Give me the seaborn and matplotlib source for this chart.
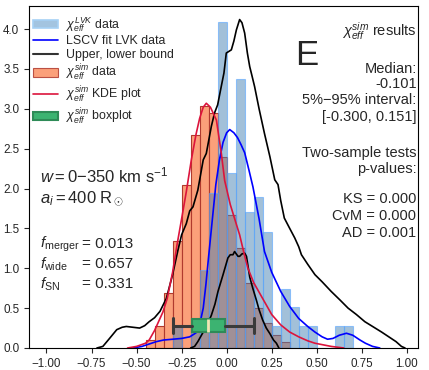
import numpy as np
import matplotlib
matplotlib.use("Agg")
from matplotlib import pyplot as plt
from matplotlib.patches import Patch
from matplotlib.lines import Line2D
import seaborn as sns

# ---- data ----
bin_width = 0.05
lvk_bin_left = [-0.30, -0.25, -0.20, -0.15, -0.10, -0.05, 0.00, 0.05, 0.10, 0.15,
                0.20, 0.25, 0.30, 0.35, 0.40, 0.45, 0.50, 0.55, 0.60, 0.65]
lvk_density = [0.27, 0.00, 0.27, 0.98, 1.94, 4.09, 2.20, 3.37, 1.71, 1.90,
               1.46, 0.27, 0.74, 0.51, 0.27, 0.27, 0.00, 0.00, 0.27, 0.27]

sim_bin_left = [-0.45, -0.40, -0.35, -0.30, -0.25, -0.20, -0.15, -0.10, -0.05, 0.00,
                0.05, 0.10, 0.15, 0.20, 0.25, 0.30]
sim_density = [0.10, 0.28, 0.69, 1.34, 2.05, 2.67, 3.03, 2.95, 2.40, 1.67,
               1.25, 0.81, 0.50, 0.31, 0.16, 0.08]

lscv_x = [-0.52, -0.47, -0.43, -0.39, -0.35, -0.30, -0.25, -0.205, -0.17, -0.15, -0.13,
          -0.115, -0.10, -0.08, -0.06, -0.04, -0.02, 0.00, 0.017, 0.04, 0.06, 0.08, 0.10,
          0.125, 0.146, 0.18, 0.21, 0.25, 0.30, 0.35, 0.40, 0.45, 0.49, 0.53, 0.56, 0.59,
          0.625, 0.665, 0.70, 0.74, 0.77, 0.81, 0.85]
lscv_y = [0.00, 0.02, 0.05, 0.08, 0.10, 0.11, 0.12, 0.14, 0.19, 0.29, 0.50,
          0.80, 1.15, 1.60, 2.05, 2.36, 2.58, 2.70, 2.74, 2.70, 2.64, 2.55, 2.45,
          2.22, 2.02, 1.62, 1.21, 0.95, 0.71, 0.52, 0.37, 0.27, 0.20, 0.14, 0.11, 0.12,
          0.16, 0.185, 0.16, 0.10, 0.06, 0.02, 0.00]

upper_x = [-0.72, -0.687, -0.65, -0.61, -0.58, -0.557, -0.52, -0.483, -0.455, -0.43, -0.40,
           -0.37, -0.335, -0.30, -0.27, -0.25, -0.224, -0.205, -0.187, -0.16, -0.13, -0.113,
           -0.085, -0.067, -0.05, -0.03, -0.015, -0.002, 0.012, 0.026, 0.04, 0.054, 0.072,
           0.085, 0.10, 0.115, 0.128, 0.14, 0.155, 0.18, 0.21, 0.24, 0.267, 0.285, 0.30,
           0.32, 0.35, 0.378, 0.40, 0.415, 0.45, 0.49, 0.53, 0.58, 0.63, 0.674, 0.72,
           0.767, 0.81, 0.86, 0.90, 0.94, 0.97, 0.99]
upper_y = [0.00, 0.02, 0.12, 0.23, 0.26, 0.27, 0.26, 0.25, 0.28, 0.33, 0.38,
           0.46, 0.62, 0.92, 1.23, 1.42, 1.56, 1.72, 1.77, 1.98, 2.36, 2.44,
           2.78, 2.95, 3.05, 3.28, 3.45, 3.70, 3.72, 3.74, 3.85, 3.99, 4.12,
           4.08, 3.95, 3.70, 3.53, 3.42, 3.28, 3.00, 2.69, 2.40, 2.11, 2.05, 1.85,
           1.63, 1.50, 1.38, 1.27, 1.17, 1.05, 0.92, 0.83, 0.71, 0.60, 0.50, 0.42,
           0.33, 0.27, 0.20, 0.14, 0.08, 0.02, 0.00]

lower_x = [-0.20, -0.178, -0.16, -0.14, -0.11, -0.085, -0.065, -0.048, -0.02, 0.007, 0.02,
           0.035, 0.044, 0.063, 0.072, 0.085, 0.10, 0.11, 0.128, 0.145, 0.165, 0.18, 0.20,
           0.22, 0.24, 0.26, 0.276, 0.29]
lower_y = [0.00, 0.02, 0.08, 0.16, 0.28, 0.41, 0.55, 0.71, 0.92, 1.13, 1.17,
           1.17, 1.21, 1.15, 1.15, 1.18, 1.19, 1.15, 0.89, 0.75, 0.60, 0.48, 0.35,
           0.25, 0.18, 0.10, 0.06, 0.00]

kde_x = [-0.55, -0.50, -0.45, -0.43, -0.40, -0.354, -0.33, -0.30, -0.275, -0.25, -0.224,
         -0.196, -0.17, -0.15, -0.13, -0.113, -0.09, -0.057, -0.03, -0.011, 0.02, 0.05,
         0.072, 0.095, 0.118, 0.15, 0.18, 0.21, 0.25, 0.30, 0.35, 0.40, 0.45, 0.49,
         0.58, 0.65]
kde_y = [0.00, 0.02, 0.06, 0.10, 0.22, 0.45, 0.62, 0.95, 1.30, 1.62, 1.96,
         2.36, 2.68, 2.88, 3.02, 3.07, 3.02, 2.86, 2.45, 2.10, 1.80, 1.58,
         1.42, 1.20, 1.00, 0.82, 0.70, 0.58, 0.42, 0.29, 0.20, 0.14, 0.09, 0.06,
         0.02, 0.00]

sim_median = -0.101
sim_q1, sim_q3 = -0.19, -0.01
sim_p05, sim_p95 = -0.300, 0.151

# ---- style ----
sns.set_style("ticks")
plt.rcParams['font.family'] = ['Liberation Sans', 'DejaVu Sans']
plt.rcParams['mathtext.fontset'] = 'custom'
plt.rcParams['mathtext.rm'] = 'Liberation Sans'
plt.rcParams['mathtext.it'] = 'Liberation Sans:italic'
plt.rcParams['mathtext.bf'] = 'Liberation Sans:bold'

W, H = 429, 370
fig = plt.figure(figsize=(W / 100, H / 100), dpi=100)
ax = fig.add_axes([29 / W, 1 - 348 / H, (418 - 29) / W, (348 - 6) / H])


def fpos(x, y):
    return x / W, 1 - y / H


def edges(left):
    return list(left) + [left[-1] + bin_width]


sim_face = '#fb8f63'
sim_edge = '#b03a2e'
lvk_face = 'steelblue'
lvk_edge = (0.35, 0.65, 1.0, 0.6)

sns.histplot(x=np.array(sim_bin_left) + bin_width / 2, weights=sim_density,
             bins=edges(sim_bin_left), stat='count', color=sim_face, alpha=0.85,
             edgecolor=sim_edge, linewidth=0.8, ax=ax)
sns.histplot(x=np.array(lvk_bin_left) + bin_width / 2, weights=lvk_density,
             bins=edges(lvk_bin_left), stat='count', color=lvk_face, alpha=0.5,
             edgecolor=lvk_edge, linewidth=0.8, ax=ax)

sns.lineplot(x=lscv_x, y=lscv_y, color='blue', lw=1.2, estimator=None, ax=ax)
sns.lineplot(x=upper_x, y=upper_y, color='black', lw=1.2, estimator=None, ax=ax)
sns.lineplot(x=lower_x, y=lower_y, color='black', lw=1.2, estimator=None, ax=ax)
sns.lineplot(x=kde_x, y=kde_y, color='crimson', lw=1.2, estimator=None, ax=ax)

box_stats = [{'med': sim_median, 'q1': sim_q1, 'q3': sim_q3,
              'whislo': sim_p05, 'whishi': sim_p95, 'fliers': []}]
ax.bxp(box_stats, positions=[0.28], widths=0.16, capwidths=0.19,
       orientation='horizontal', patch_artist=True, manage_ticks=False, showfliers=False,
       boxprops=dict(facecolor='#3cb371', edgecolor='#2e8b57', linewidth=1.5),
       whiskerprops=dict(color='#3a3a3a', linewidth=2.2),
       capprops=dict(color='#3a3a3a', linewidth=2.2),
       medianprops=dict(color='#efe6b4', linewidth=2), zorder=5)

ax.set_xlim(-1.097, 1.062)
ax.set_ylim(0, 4.29)
ax.set_xticks(np.arange(-1.0, 1.01, 0.25))
ax.set_xticklabels([f"{v:.2f}".replace('-', '\u2212') for v in np.arange(-1.0, 1.01, 0.25)])
ax.set_yticks(np.arange(0, 4.01, 0.5))
ax.set_yticklabels([f"{v:.1f}" for v in np.arange(0, 4.01, 0.5)])
ax.set_xlabel('')
ax.set_ylabel('')
ax.tick_params(labelsize=8.4, length=3.5, width=0.8, direction='out')
for s in ax.spines.values():
    s.set_color('black')
    s.set_linewidth(0.8)

# legend
handles = [
    Patch(facecolor=(0.64, 0.77, 0.88), edgecolor=(0.65, 0.82, 0.96), linewidth=1.2),
    Line2D([], [], color='blue', lw=1.2),
    Line2D([], [], color='#333333', lw=1.5),
    Patch(facecolor=sim_face, edgecolor=sim_edge, alpha=0.85, linewidth=0.8),
    Line2D([], [], color='crimson', lw=1.2),
    Patch(facecolor='#3cb371', edgecolor='#2e8b57', linewidth=1.5),
]
labels = [r'$\chi_{eff}^{LVK}$ data', 'LSCV fit LVK data', 'Upper, lower bound',
          r'$\chi_{eff}^{sim}$ data', r'$\chi_{eff}^{sim}$ KDE plot', r'$\chi_{eff}^{sim}$ boxplot']
ax.legend(handles, labels, loc='upper left', bbox_to_anchor=fpos(33, 15),
          bbox_transform=fig.transFigure, frameon=False, fontsize=8.9,
          labelspacing=0.14, handlelength=2.0, handletextpad=0.7, borderpad=0, borderaxespad=0)

# left annotations
fig.text(*fpos(40, 182), r'$w = 0{-}350$ km s$^{-1}$', fontsize=12, va='baseline')
fig.text(*fpos(40, 203), r'$a_i = 400\ \mathrm{R}_\odot$', fontsize=12, va='baseline')
for lab, val, yb in [(r'$f_{\mathrm{merger}}$', '= 0.013', 247.5),
                     (r'$f_{\mathrm{wide}}$', '= 0.657', 268.3),
                     (r'$f_{\mathrm{SN}}$', '= 0.331', 288.3)]:
    fig.text(*fpos(40, yb), lab, fontsize=11, va='baseline')
    fig.text(*fpos(82, yb), val, fontsize=11, va='baseline')

# right annotations
fig.text(*fpos(295, 65), 'E', fontsize=25, va='baseline')
right_lines = [(r'$\chi_{eff}^{sim}$ results', 36),
               ('Median:', 72.7), ('-0.101', 88.3),
               ('5%\u221295% interval:', 104), ('[-0.300, 0.151]', 120.7),
               ('Two-sample tests', 156.7), ('p-values:', 172.7),
               ('KS = 0.000', 203.3), ('CvM = 0.000', 220), ('AD = 0.001', 236.7)]
for txt, yb in right_lines:
    fig.text(*fpos(416.5, yb), txt, fontsize=10.5, ha='right', va='baseline')

fig.savefig('out.png', dpi=100)
